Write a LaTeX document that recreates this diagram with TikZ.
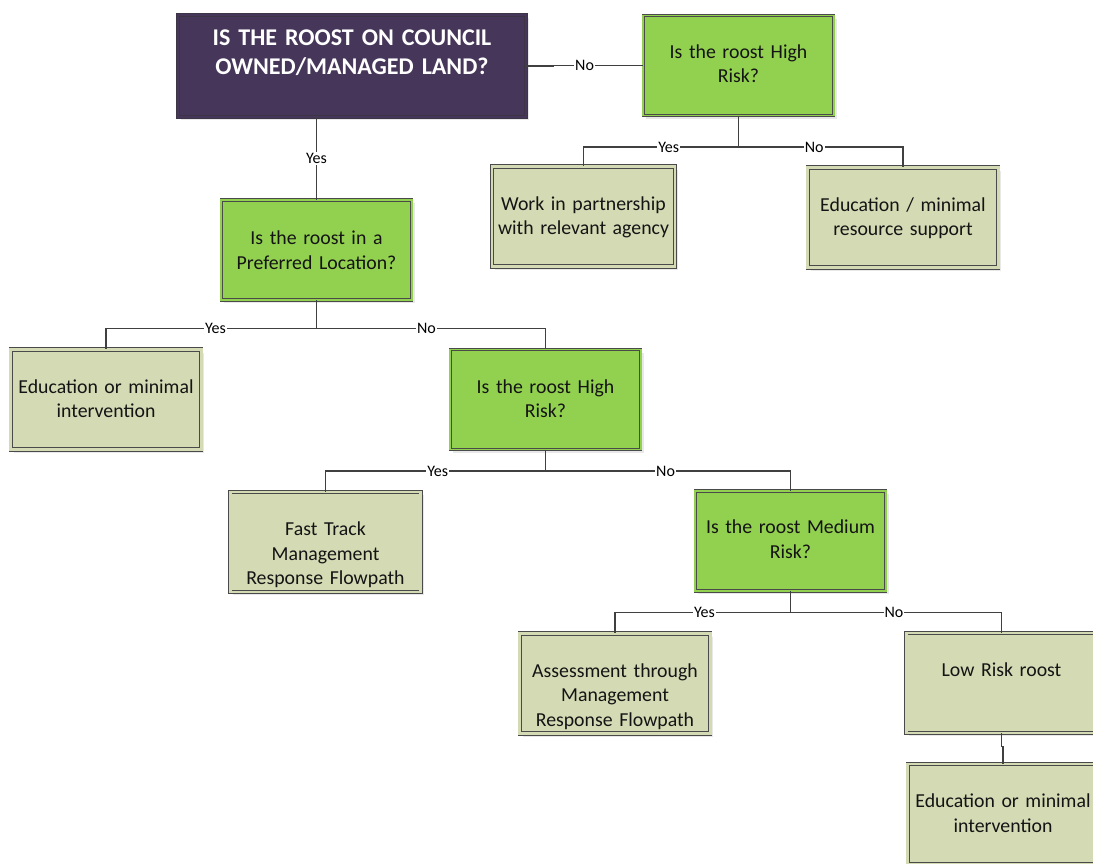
\documentclass[tikz,border=0pt]{standalone}
\usepackage{fontspec}
\setmainfont{Carlito}
\usetikzlibrary{shadows,calc}

\definecolor{leafgreen}{HTML}{92D050}
\definecolor{sage}{HTML}{D3DAB4}
\definecolor{plum}{HTML}{46365A}
\definecolor{plumedge}{HTML}{3B3545}
\definecolor{boxedge}{HTML}{4A4A4A}
\definecolor{wirecol}{HTML}{404040}

\tikzset{
  softshadow/.style={drop shadow={shadow xshift=3pt, shadow yshift=-3pt, fill=black!9, opacity=1}},
  boxbase/.style={rectangle, inner sep=0pt, line width=0.9pt, draw=boxedge, softshadow,
                  minimum width=190.5pt, minimum height=100pt},
  question/.style={boxbase, fill=leafgreen, double=leafgreen, double distance=1.6pt},
  outcome/.style={boxbase, fill=sage, double=sage, double distance=2.6pt},
  titlebox/.style={rectangle, inner sep=0pt, line width=0.8pt, draw=plumedge, fill=plum,
                   double=plum, double distance=2pt, softshadow,
                   minimum width=348pt, minimum height=102pt},
  boxtext/.style={anchor=north, inner sep=0pt, text width=188pt, align=center,
                  font=\fontsize{19.8}{24.5}\selectfont, text=black!92},
  titletext/.style={anchor=north, inner sep=0pt, text width=340pt, align=center,
                    font=\bfseries\fontsize{24}{29}\selectfont, text=white},
  wire/.style={draw=wirecol, line width=1.9pt},
  answer/.style={fill=white, inner sep=1pt, text=black,
                 font=\fontsize{16}{18}\selectfont}
}

\begin{document}
\begin{tikzpicture}[x=1pt, y=-1pt]
  \useasboundingbox (0,0) rectangle (1093,863);
  \clip (0,0) rectangle (1093,863);

  % boxes
  \node[titlebox] (title)  at (352,66)      {};
  \node[question] (q1)     at (738.5,65.5)  {};
  \node[outcome, minimum width=183pt] (work) at (583.5,216.5) {};
  \node[outcome]  (edumin) at (903,217.5)   {};
  \node[question] (pref)   at (316.5,250)   {};
  \node[outcome]  (eduL)   at (106,399.5)   {};
  \node[question] (q2)     at (545.5,399.5) {};
  \node[outcome]  (fast)   at (325.5,542)   {};
  \node[question] (q3)     at (790.5,541)   {};
  \node[outcome]  (assess) at (615,683.5)   {};
  \node[outcome]  (low)    at (1001.5,683)  {};
  \node[outcome]  (eduR)   at (1003,814)    {};

  % box texts
  \node[titletext] (title-t) at ([yshift=-15pt]title.north) {IS THE ROOST ON COUNCIL\\OWNED/MANAGED LAND?};
  \node[boxtext] (q1-t)     at ([yshift=-29pt]q1.north)     {Is the roost High\\Risk?};
  \node[boxtext] (work-t)   at ([yshift=-30pt]work.north)   {Work in partnership\\with relevant agency};
  \node[boxtext] (edumin-t) at ([yshift=-30pt]edumin.north) {Education / minimal\\resource support};
  \node[boxtext] (pref-t)   at ([yshift=-31pt]pref.north)   {Is the roost in a\\Preferred Location?};
  \node[boxtext] (eduL-t)   at ([yshift=-30pt]eduL.north)   {Education or minimal\\intervention};
  \node[boxtext] (q2-t)     at ([yshift=-30pt]q2.north)     {Is the roost High\\Risk?};
  \node[boxtext] (fast-t)   at ([yshift=-30pt]fast.north)   {Fast Track\\Management\\Response Flowpath};
  \node[boxtext] (q3-t)     at ([yshift=-29pt]q3.north)     {Is the roost Medium\\Risk?};
  \node[boxtext] (assess-t) at ([yshift=-30pt]assess.north) {Assessment through\\Management\\Response Flowpath};
  \node[boxtext] (low-t)    at ([yshift=-30pt]low.north)    {Low Risk roost};
  \node[boxtext] (eduR-t)   at ([yshift=-30pt]eduR.north)   {Education or minimal\\intervention};

  % title: No branch to the right, Yes branch downwards
  \draw[wire] (title.east) -- ++(27,0) |- (q1.west);
  \node[answer] (no0) at ($(title.east)!0.5!(q1.west)$) {No};
  \draw[wire] (title.south -| pref.north) -- node[answer] (yes0) {Yes} (pref.north);

  % split below the top-right question
  \coordinate (q1j) at ($(q1.south)+(0,31)$);
  \draw[wire] (q1.south) -- (q1j);
  \draw[wire] (q1j) -| node[answer, pos=0.225] (yes1) {Yes} (work.north);
  \draw[wire] (q1j) -| node[answer, pos=0.23] (no1) {No} (edumin.north);

  % split below the preferred-location question
  \coordinate (prefj) at ($(pref.south)+(0,28)$);
  \draw[wire] (pref.south) -- (prefj);
  \draw[wire] (prefj) -| node[answer, pos=0.24] (yes2) {Yes} (eduL.north);
  \draw[wire] (prefj) -| node[answer, pos=0.24] (no2) {No} (q2.north);

  % split below the high-risk question
  \coordinate (q2j) at ($(q2.south)+(0,21)$);
  \draw[wire] (q2.south) -- (q2j);
  \draw[wire] (q2j) -| node[answer, pos=0.245] (yes3) {Yes} (fast.north);
  \draw[wire] (q2j) -| node[answer, pos=0.245] (no3) {No} (q3.north);

  % split below the medium-risk question
  \coordinate (q3j) at ($(q3.south)+(0,21)$);
  \draw[wire] (q3.south) -- (q3j);
  \draw[wire] (q3j) -| node[answer, pos=0.245] (yes4) {Yes} (assess.north);
  \draw[wire] (q3j) -| node[answer, pos=0.245] (no4) {No} (low.north);

  % low risk leads on to education
  \draw[wire] (low.south) -- ++(0,13) -| (eduR.north);
\end{tikzpicture}
\end{document}
